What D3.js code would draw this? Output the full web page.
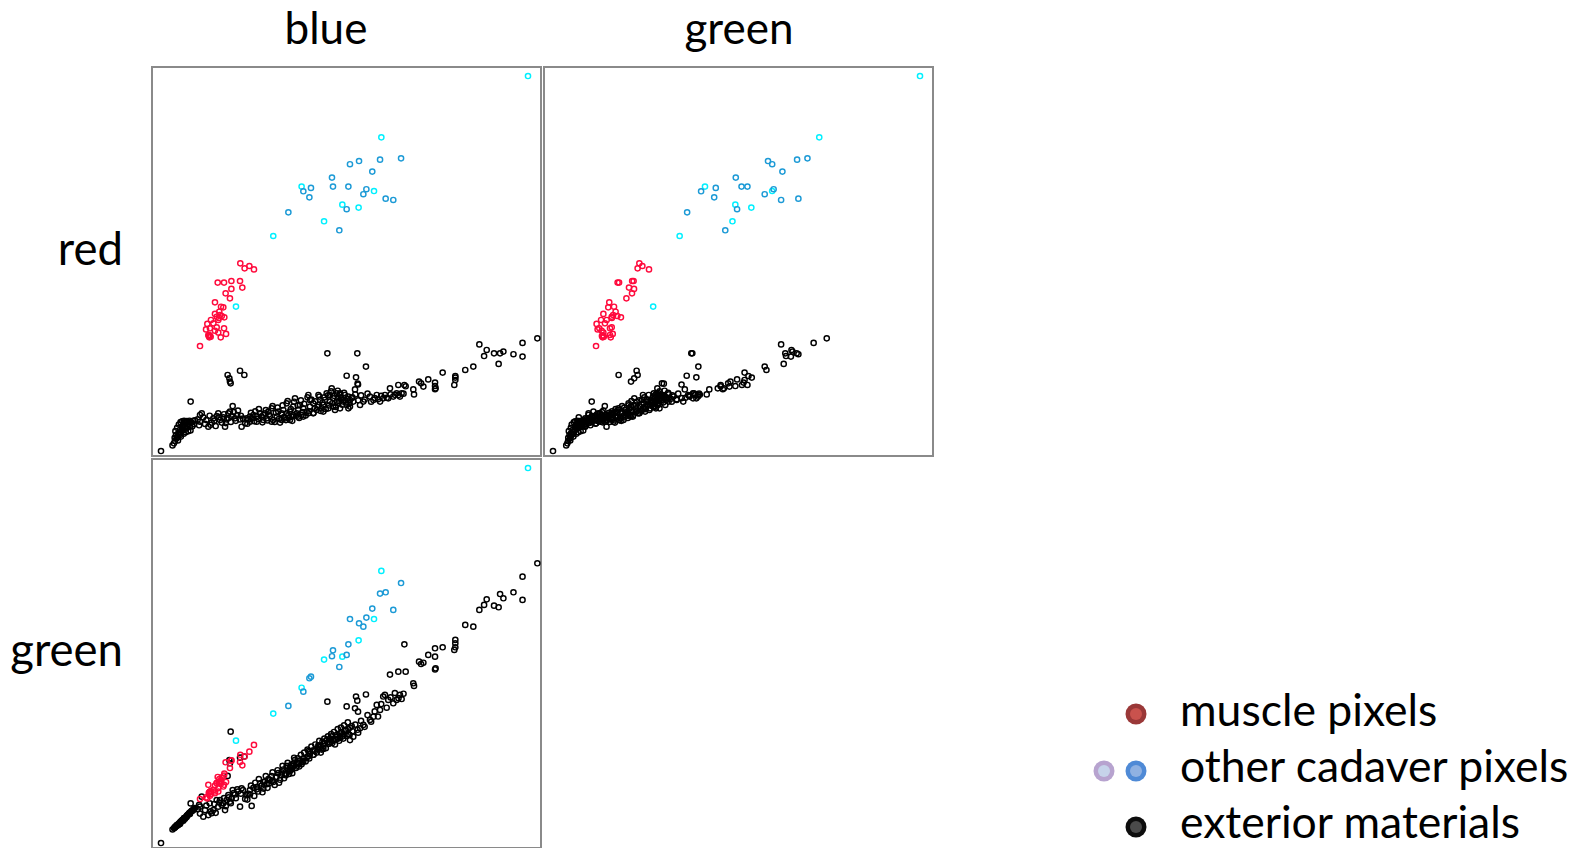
<!DOCTYPE html>
<html><head><meta charset="utf-8">
<script src="https://cdn.jsdelivr.net/npm/d3@7"></script>
<style>body{margin:0;background:#fff;overflow:hidden}</style>
</head><body>
<svg id="chart" width="1585" height="848"></svg>
<script>
// ---- labels ----
const columnLabels = ["blue", "green"];
const rowLabels = ["red", "green"];
const legendLabels = ["muscle pixels", "other cadaver pixels", "exterior materials"];

// ---- muscle pixels (blue, green, red channel values) ----
const muscleBlue  = [55.1,61.4,58.1,64.6,39.4,43.8,48.9,54.9,56.5,48.9,44.9,47.9,37.5,41.7,43.3,40.5,37.5,38.7,42.2,44.0,39.8,34.7,36.4,32.2,38.7,34.0,31.3,43.8,37.5,39.8,45.2,32.9,33.6,34.5,41.5,27.1,41.0,40.2,33.2,33.9];
const muscleGreen = [60.0,62.1,58.8,66.7,44.9,45.9,56.0,55.0,52.8,56.3,54.9,51.0,39.1,42.4,38.4,43.5,35.0,40.8,44.7,47.2,37.3,33.4,36.1,30.3,40.8,32.2,31.0,39.6,33.8,35.0,41.5,39.6,34.5,35.3,40.1,29.9,41.8,40.9,34.0,34.8];
const muscleRed   = [127.6,125.8,124.2,123.5,114.5,114.5,115.6,115.6,111.1,110.2,107.2,103.8,101.1,98.1,97.7,94.7,93.2,91.3,91.8,90.9,89.1,89.1,86.8,86.4,84.1,83.4,82.7,83.4,81.8,80.5,79.6,78.9,77.3,77.7,77.3,71.4,92.5,90.5,78.2,78.6];

// ---- other cadaver pixels ----
const otherTone  = ["c","c","c","c","c","c","c","c","c","s","s","s","s","s","s","s","s","s","s","s","s","s","s","s","s","s","s"];
const otherBlue  = [255,153.1,97.7,148.0,126.0,137.3,113.3,78.0,52.1,166.8,152.2,156.1,146.8,161.4,131.3,142.7,137.6,140.6,130.2,129.0,119.5,118.8,123.9,104.2,103.1,98.9,88.5];
const otherGreen = [255,185.0,105.6,152.3,126.7,137.8,124.7,88.0,69.6,176.8,169.6,170.5,159.4,158.5,152.3,153.3,149.4,147.1,135.1,127.9,131.0,127.0,119.7,113.1,112.0,102.9,93.2];
const otherRed   = [255,213.3,179.8,176.8,167.5,165.5,156.2,146.2,98.2,199.0,198.1,171.6,190.0,170.7,195.0,178.0,197.2,174.6,179.8,164.4,179.8,185.9,150.1,178.9,172.5,176.6,162.3];

// ---- exterior materials ----
const extBlue = [0,
 8.0,9.0,9.7,10.4,10.9,11.5,12.0,12.6,13.2,13.2,14.0,14.4,15.0,15.5,15.5,16.2,16.7,16.7,17.8,17.8,18.5,19.0,19.5,20.1,20.1,21.3,22.5,20.6,
 27.1,28.3,29.4,27.1,30.6,32.9,35.2,36.4,38.7,39.8,41.0,42.2,43.3,44.5,45.6,46.8,47.9,49.8,49.1,51.4,53.0,54.9,56.0,59.5,
 46.3,47.5,47.9,54.9,57.9,48.4,
 60.7,61.8,63.0,64.2,66.5,68.8,69.9,71.1,72.3,73.4,75.7,76.9,78.0,80.4,82.7,83.8,85.0,86.2,87.3,88.5,89.6,90.8,91.9,93.1,94.3,95.4,96.6,97.7,98.9,101.2,102.4,103.5,105.8,108.2,109.4,110.5,111.6,112.8,115.1,117.4,118.6,119.7,120.9,122.1,123.2,124.4,126.7,129.0,130.2,
 61.8,66.5,71.1,74.6,76.9,81.5,83.8,87.3,89.6,91.9,95.4,98.9,102.4,103.5,105.8,106.9,109.4,112.8,113.9,116.3,117.4,119.7,122.1,124.4,125.5,127.8,130.2,131.3,
 124.4,126.7,131.3,133.6,138.3,140.6,145.2,147.6,149.9,152.2,154.4,155.6,157.9,161.4,163.7,166.0,167.2,
 136.4,115.6,142.4,129.0,135.5,136.6,136.9,134.8,159.1,164.9,169.1,170.0,175.3,175.8,179.3,180.7,182.3,185.7,190.4,190.4,190.8,190.4,195.7,204.5,204.5,204.5,203.8,211.4,217.0,221.2,226.3,224.5,231.4,235.6,237.9,234.6,244.9,251.2,251.2,261.5,
 10.0,11.2,12.4,13.6,14.8,16.0,17.2,18.9,20.5,21.8,22.8,9.5,11.8,13.8,15.8,23.6,19.8,18.0,
 25.5,26.5,31.5,33.8,34.5,37.0,38.0,40.5,43.8,45.0,47.0,48.5,50.5,52.0,53.5,55.5,57.0,58.5,
 60.0,62.5,64.8,65.5,67.5,68.0,70.5,72.8,74.0,75.0,77.5,79.0,79.8,81.0,82.0,84.5,85.5,86.8,88.0,89.0,90.2,91.2,92.5,93.8,95.0,96.0,97.2,98.2,99.5,100.5,101.8,103.0,104.5,106.0,107.2,108.8,110.0,111.0,112.2,113.5,114.5,116.0,116.8,118.2,119.0,120.2,121.5,122.8,123.8,125.0,126.0,127.2,128.5,129.8,131.0,132.5,
 133.0,135.0,137.0,139.0,141.5,143.5,146.0,148.5,150.8,153.0,156.8,159.5,162.5,165.0,168.5];
const extGreen = [0,
 9.2,10.0,10.5,11.5,11.8,12.2,12.5,13.4,13.8,13.0,14.6,15.0,15.8,16.0,15.2,16.8,17.2,16.5,18.2,17.6,19.0,19.5,20.0,20.5,19.8,21.8,22.4,26.9,
 24.7,31.5,17.9,20.0,22.4,19.0,20.2,22.4,29.2,24.7,29.2,25.8,27.0,22.4,29.2,32.6,28.1,36.0,30.4,33.0,36.5,24.7,37.2,32.6,
 45.6,56.4,54.2,58.1,58.8,75.7,
 33.5,36.0,25.2,37.5,38.0,40.5,39.0,37.0,42.0,40.0,43.0,45.5,41.5,45.0,43.0,48.0,50.0,47.0,52.5,49.5,51.5,50.0,54.0,56.5,52.0,54.5,56.0,53.5,57.5,58.0,62.5,60.5,63.0,61.5,66.5,65.0,63.5,66.0,70.0,68.5,72.5,70.5,67.0,73.5,71.0,74.5,74.0,73.0,77.5,
 33.0,36.5,41.5,43.5,42.0,47.5,46.0,51.0,49.0,52.5,54.0,55.5,59.0,62.0,60.0,62.5,65.5,64.0,68.0,67.5,71.0,69.5,72.0,71.5,75.5,77.0,74.0,78.5,
 72.0,71.0,70.0,72.3,78.0,80.3,83.7,85.9,93.9,90.5,99.6,100.7,97.3,95.0,97.3,100.7,97.9,
 96.8,96.1,101.0,92.9,99.6,77.0,89.3,91.6,114.5,116.5,135.1,116.5,108.6,106.8,123.3,121.7,122.6,127.9,132.4,126.7,118.8,118.0,133.1,138.1,135.8,133.1,131.3,148.3,147.1,158.5,165.7,161.9,161.4,169.3,166.4,160.3,170.5,181.1,165.3,190.2,
 11.0,12.4,13.0,14.5,15.5,16.9,17.5,19.2,21.0,22.0,23.2,10.6,12.0,14.2,16.2,23.8,20.6,18.6,
 23.0,26.0,25.5,27.0,21.5,26.5,20.5,27.5,30.5,25.0,31.0,27.0,34.0,30.5,35.0,33.5,36.0,30.0,
 29.5,39.0,32.0,41.0,35.0,43.5,34.5,45.5,37.5,40.5,48.0,39.5,44.5,49.5,41.0,52.5,44.0,46.0,54.5,47.0,53.0,47.5,58.0,51.0,57.5,52.0,60.0,55.0,61.5,55.5,63.5,57.5,65.5,60.0,67.0,64.0,69.5,61.5,69.0,71.0,64.5,72.5,67.5,74.0,68.0,75.5,70.5,77.5,69.5,78.5,72.5,80.0,76.5,82.0,73.5,79.5,
 76.0,80.5,75.0,83.0,79.0,87.0,82.5,89.5,86.0,94.5,92.0,99.0,102.0,98.5,101.5];
const extRed = [0,
 3.8,5.2,6.8,10.9,8.6,9.5,12.0,11.5,14.3,10.9,13.0,16.5,15.5,17.7,14.3,18.0,19.3,16.5,19.9,15.4,17.8,19.5,18.5,19.9,16.5,19.3,20.5,33.6,
 24.5,25.6,22.9,19.9,18.4,16.5,19.3,22.2,23.8,25.6,21.1,19.3,22.9,16.5,21.5,25.6,26.8,30.6,23.8,22.2,24.5,21.5,16.5,22.2,
 51.7,49.4,47.2,54.6,51.7,46.0,
 21.5,23.4,22.2,24.5,23.8,25.6,23.4,21.1,25.6,22.2,23.8,29.0,21.1,23.4,19.3,25.6,27.9,22.2,32.4,24.5,26.8,23.4,30.2,35.8,25.6,27.9,31.3,24.5,29.0,26.8,38.1,30.2,32.4,27.9,38.1,34.7,29.0,31.3,39.2,33.6,42.6,35.8,27.9,39.2,32.4,38.1,34.7,31.3,37.0,
 19.9,19.9,24.5,26.8,19.9,26.8,21.1,25.6,21.1,24.5,23.4,23.4,25.6,34.7,25.6,29.0,31.3,26.8,34.7,29.0,38.1,30.2,33.6,29.0,35.8,38.1,29.0,34.7,
 39.2,33.6,30.2,33.6,31.3,33.6,37.0,34.7,38.1,33.6,35.8,38.1,35.8,37.0,39.2,37.0,39.2,
 66.4,66.4,57.4,51.2,50.1,45.8,45.2,41.9,42.6,44.9,44.9,44.0,41.9,38.5,47.2,46.0,43.8,48.7,46.5,44.2,42.6,42.0,53.3,49.9,51.0,48.3,44.9,55.1,57.4,72.5,68.7,64.6,66.4,66.4,67.6,59.2,65.8,73.5,64.2,76.6,
 13.5,15.8,18.0,19.6,20.2,20.5,12.8,13.5,14.0,16.8,18.2,9.0,7.2,9.8,11.8,20.8,20.6,20.4,
 21.5,17.5,21.0,24.0,17.8,20.5,17.0,23.0,25.0,19.0,22.5,19.8,26.5,20.5,27.5,24.0,22.0,18.8,
 18.5,26.0,20.2,27.0,21.8,28.5,19.5,27.8,20.8,24.8,30.5,19.8,26.0,29.5,21.8,31.0,23.0,21.0,34.0,22.8,28.5,20.5,33.5,24.0,31.0,22.5,34.5,26.5,32.0,24.2,36.5,27.0,35.0,26.0,33.8,30.0,37.0,27.2,33.0,36.5,28.5,37.8,31.0,40.5,32.5,37.5,30.0,41.0,34.0,36.5,31.5,39.5,33.0,35.5,32.5,36.0,
 36.5,38.5,34.5,37.8,35.0,39.0,33.5,36.0,35.2,37.5,36.2,38.5,38.2,38.0,39.0];

// ---- colours ----
const pointColor = { ext: "#000000", muscle: "#ff0a3c", c: "#00f0ff", s: "#1c9ad6" };

const points = [];
extBlue.forEach((b, i) => points.push({ blue: b, green: extGreen[i], red: extRed[i], col: pointColor.ext }));
muscleBlue.forEach((b, i) => points.push({ blue: b, green: muscleGreen[i], red: muscleRed[i], col: pointColor.muscle }));
otherBlue.forEach((b, i) => points.push({ blue: b, green: otherGreen[i], red: otherRed[i], col: pointColor[otherTone[i]] }));

const svg = d3.select("#chart");
const panelSize = 389, panelGap = 3, originX = 152, originY = 67;
const x = d3.scaleLinear().domain([0, 255]).range([9, 376]);
const y = d3.scaleLinear().domain([0, 255]).range([384, 9]);

const panels = [
  { xKey: "blue",  yKey: "red",   col: 0, row: 0 },
  { xKey: "green", yKey: "red",   col: 1, row: 0 },
  { xKey: "blue",  yKey: "green", col: 0, row: 1 }
];

panels.forEach(p => {
  const g = svg.append("g").attr("transform", `translate(${originX + p.col * (panelSize + panelGap)},${originY + p.row * (panelSize + panelGap)})`);
  g.append("rect").attr("x", 0).attr("y", 0).attr("width", panelSize).attr("height", panelSize)
    .attr("fill", "#fff").attr("stroke", "#8a8a8a").attr("stroke-width", 2);
  g.selectAll("circle").data(points.filter(d => isFinite(d[p.xKey]) && isFinite(d[p.yKey]))).join("circle")
    .attr("cx", d => x(d[p.xKey])).attr("cy", d => y(d[p.yKey])).attr("r", 2.6)
    .attr("fill", "none").attr("stroke", d => d.col).attr("stroke-width", 1.45);
});

const font = "Lato, 'Open Sans', sans-serif";
const colX = [326, 739];
columnLabels.forEach((t, i) => {
  svg.append("text").attr("x", colX[i]).attr("y", 44)
    .attr("text-anchor", "middle").attr("font-family", font).attr("font-size", 44).attr("fill", "#000").text(t);
});
const rowY = [265, 666];
rowLabels.forEach((t, i) => {
  svg.append("text").attr("x", 123).attr("y", rowY[i])
    .attr("text-anchor", "end").attr("font-family", font).attr("font-size", 45.5).attr("fill", "#000").text(t);
});

// ---- legend ----
const legendDots = [
  [{ cx: 1136, outer: "#9a3838", inner: "#c9524d" }],
  [{ cx: 1104, outer: "#b7a3cf", inner: "#c6d3ea" }, { cx: 1136, outer: "#4f8ad6", inner: "#8fb1e2" }],
  [{ cx: 1136, outer: "#0d0d0d", inner: "#4a4a4a" }]
];
const legY = [714, 771, 827];
const legBase = [726, 782, 838];
legendLabels.forEach((t, i) => {
  legendDots[i].forEach(d => {
    svg.append("circle").attr("cx", d.cx).attr("cy", legY[i]).attr("r", 10.5).attr("fill", d.outer);
    svg.append("circle").attr("cx", d.cx).attr("cy", legY[i]).attr("r", 6).attr("fill", d.inner);
  });
  svg.append("text").attr("x", 1180).attr("y", legBase[i]).attr("font-family", font)
    .attr("font-size", 44.5).attr("fill", "#000").text(t);
});
</script>
</body></html>
